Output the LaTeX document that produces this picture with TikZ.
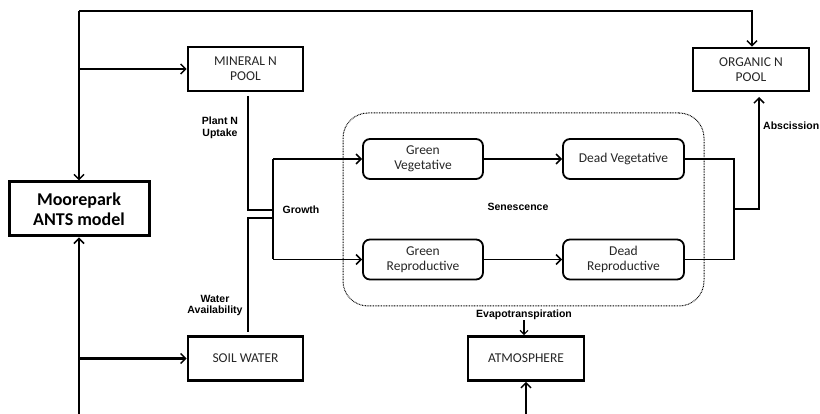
\documentclass[tikz,border=0pt]{standalone}
\usepackage{fontspec}
\setmainfont{Carlito}
\newfontfamily\lblfont{Liberation Sans}
\usetikzlibrary{arrows.meta}
\tikzset{
  heavy/.style={line width=2.4pt},
  thin/.style={line width=1.4pt},
  tip/.style={-{Straight Barb[length=5pt,width=10pt,line width=1.5pt]}},
  smalltip/.style={-{Straight Barb[length=4pt,width=8pt,line width=1.2pt]}},
  pool/.style={draw, line width=2.6pt, minimum width=115pt, minimum height=44pt, align=center, font=\fontsize{13.5}{15}\selectfont, text=black!85, inner sep=0pt},
  stage/.style={draw, line width=1.8pt, rounded corners=7pt, minimum width=120pt, minimum height=40pt, align=center, font=\fontsize{13.5}{15}\selectfont, text=black!85, inner sep=0pt},
  lbl/.style={font=\lblfont\bfseries\fontsize{10.5}{11.5}\selectfont, align=center, inner sep=0pt},
}
\begin{document}
\begin{tikzpicture}[x=1pt,y=-1pt]
\useasboundingbox (0,0) rectangle (820,414);
% main nodes
\node[pool] (mineral) at (245.5,69) {MINERAL N\\POOL};
\node[pool] (soil) at (245.5,358.5) {SOIL WATER};
\node[pool, minimum width=116pt, minimum height=43pt] (organic) at (751,69.5) {ORGANIC N\\POOL};
\node[pool, minimum width=116pt] (atmos) at (526,358.5) {ATMOSPHERE};
\node[draw, line width=3pt, minimum width=140pt, minimum height=54pt, align=center, inner sep=0pt,
      font=\bfseries\fontsize{18}{20}\selectfont] (ants) at (79,209) {Moorepark\\ANTS model};
\node[stage] (gveg) at (423,159) {Green\\Vegetative};
\node[stage, minimum width=121pt] (dveg) at (623.5,159) {Dead Vegetative};
\node[stage] (grep) at (423,259.5) {Green\\Reproductive};
\node[stage, minimum width=121pt] (drep) at (623.5,259.5) {Dead\\Reproductive};
% senescence region
\node[draw, dash pattern=on 0.8pt off 0.8pt, line width=1pt, rounded corners=25pt, minimum width=361pt, minimum height=193pt, inner sep=0pt] (senbox) at (523.5,209.5) {};
% labels
\node[lbl] (uptake) at (220,128) {Plant N\\Uptake};
\node[lbl] (growth) at (301,210) {Growth};
\node[lbl] (water) at (215,305.5) {Water\\Availability};
\node[lbl] (sen) at (518,207) {Senescence};
\node[lbl, anchor=west] (absc) at (763,126) {Abscission};
\node[lbl] (evap) at (524,315) {Evapotranspiration};
% coordinates
\coordinate (tl) at (79,11);
\coordinate (bl) at (79,414);
\coordinate (tr) at (752,11);
\coordinate (ba) at (526,414);
\coordinate (mtop) at (248,96);
\coordinate (wbot) at (248,332);
\coordinate (g1) at (273,210);
\coordinate (g2) at (273,218);
\coordinate (gtop) at (273,159);
\coordinate (gbot) at (273,259.5);
\coordinate (d1) at (734,159);
\coordinate (d2) at (734,259.5);
\coordinate (dm) at (734,209);
\coordinate (ab) at (759,209);
\coordinate (abtop) at (759,97);
% outer loop
\draw[heavy, tip] (tl) -- (ants.north);
\draw[heavy, tip] (tl) -- (tr) -- (organic.north -| tr);
\draw[heavy, tip] (tl |- mineral.west) -- (mineral.west);
\draw[heavy, tip] (bl) -- (ants.south);
\draw[heavy, tip] (bl |- soil.west) -- (soil.west);
\draw[heavy, tip] (ba) -- (atmos.south);
% growth inputs
\draw[thin] (mtop) |- (g1);
\draw[thin] (wbot) |- (g2);
\draw[thin] (gtop) -- (gbot);
\draw[thin, tip] (gtop) -- (gveg.west);
\draw[thin, tip] (gbot) -- (grep.west);
% senescence
\draw[thin, tip] (gveg.east) -- (dveg.west);
\draw[thin, tip] (grep.east) -- (drep.west);
% abscission
\draw[thin] (dveg.east) -- (d1) -- (d2) -- (drep.east);
\draw[thin, tip] (dm) -- (ab) -- (abtop);
% evapotranspiration
\draw[thin, smalltip] (evap.south) -- (evap.south |- atmos.north);
\end{tikzpicture}
\end{document}
